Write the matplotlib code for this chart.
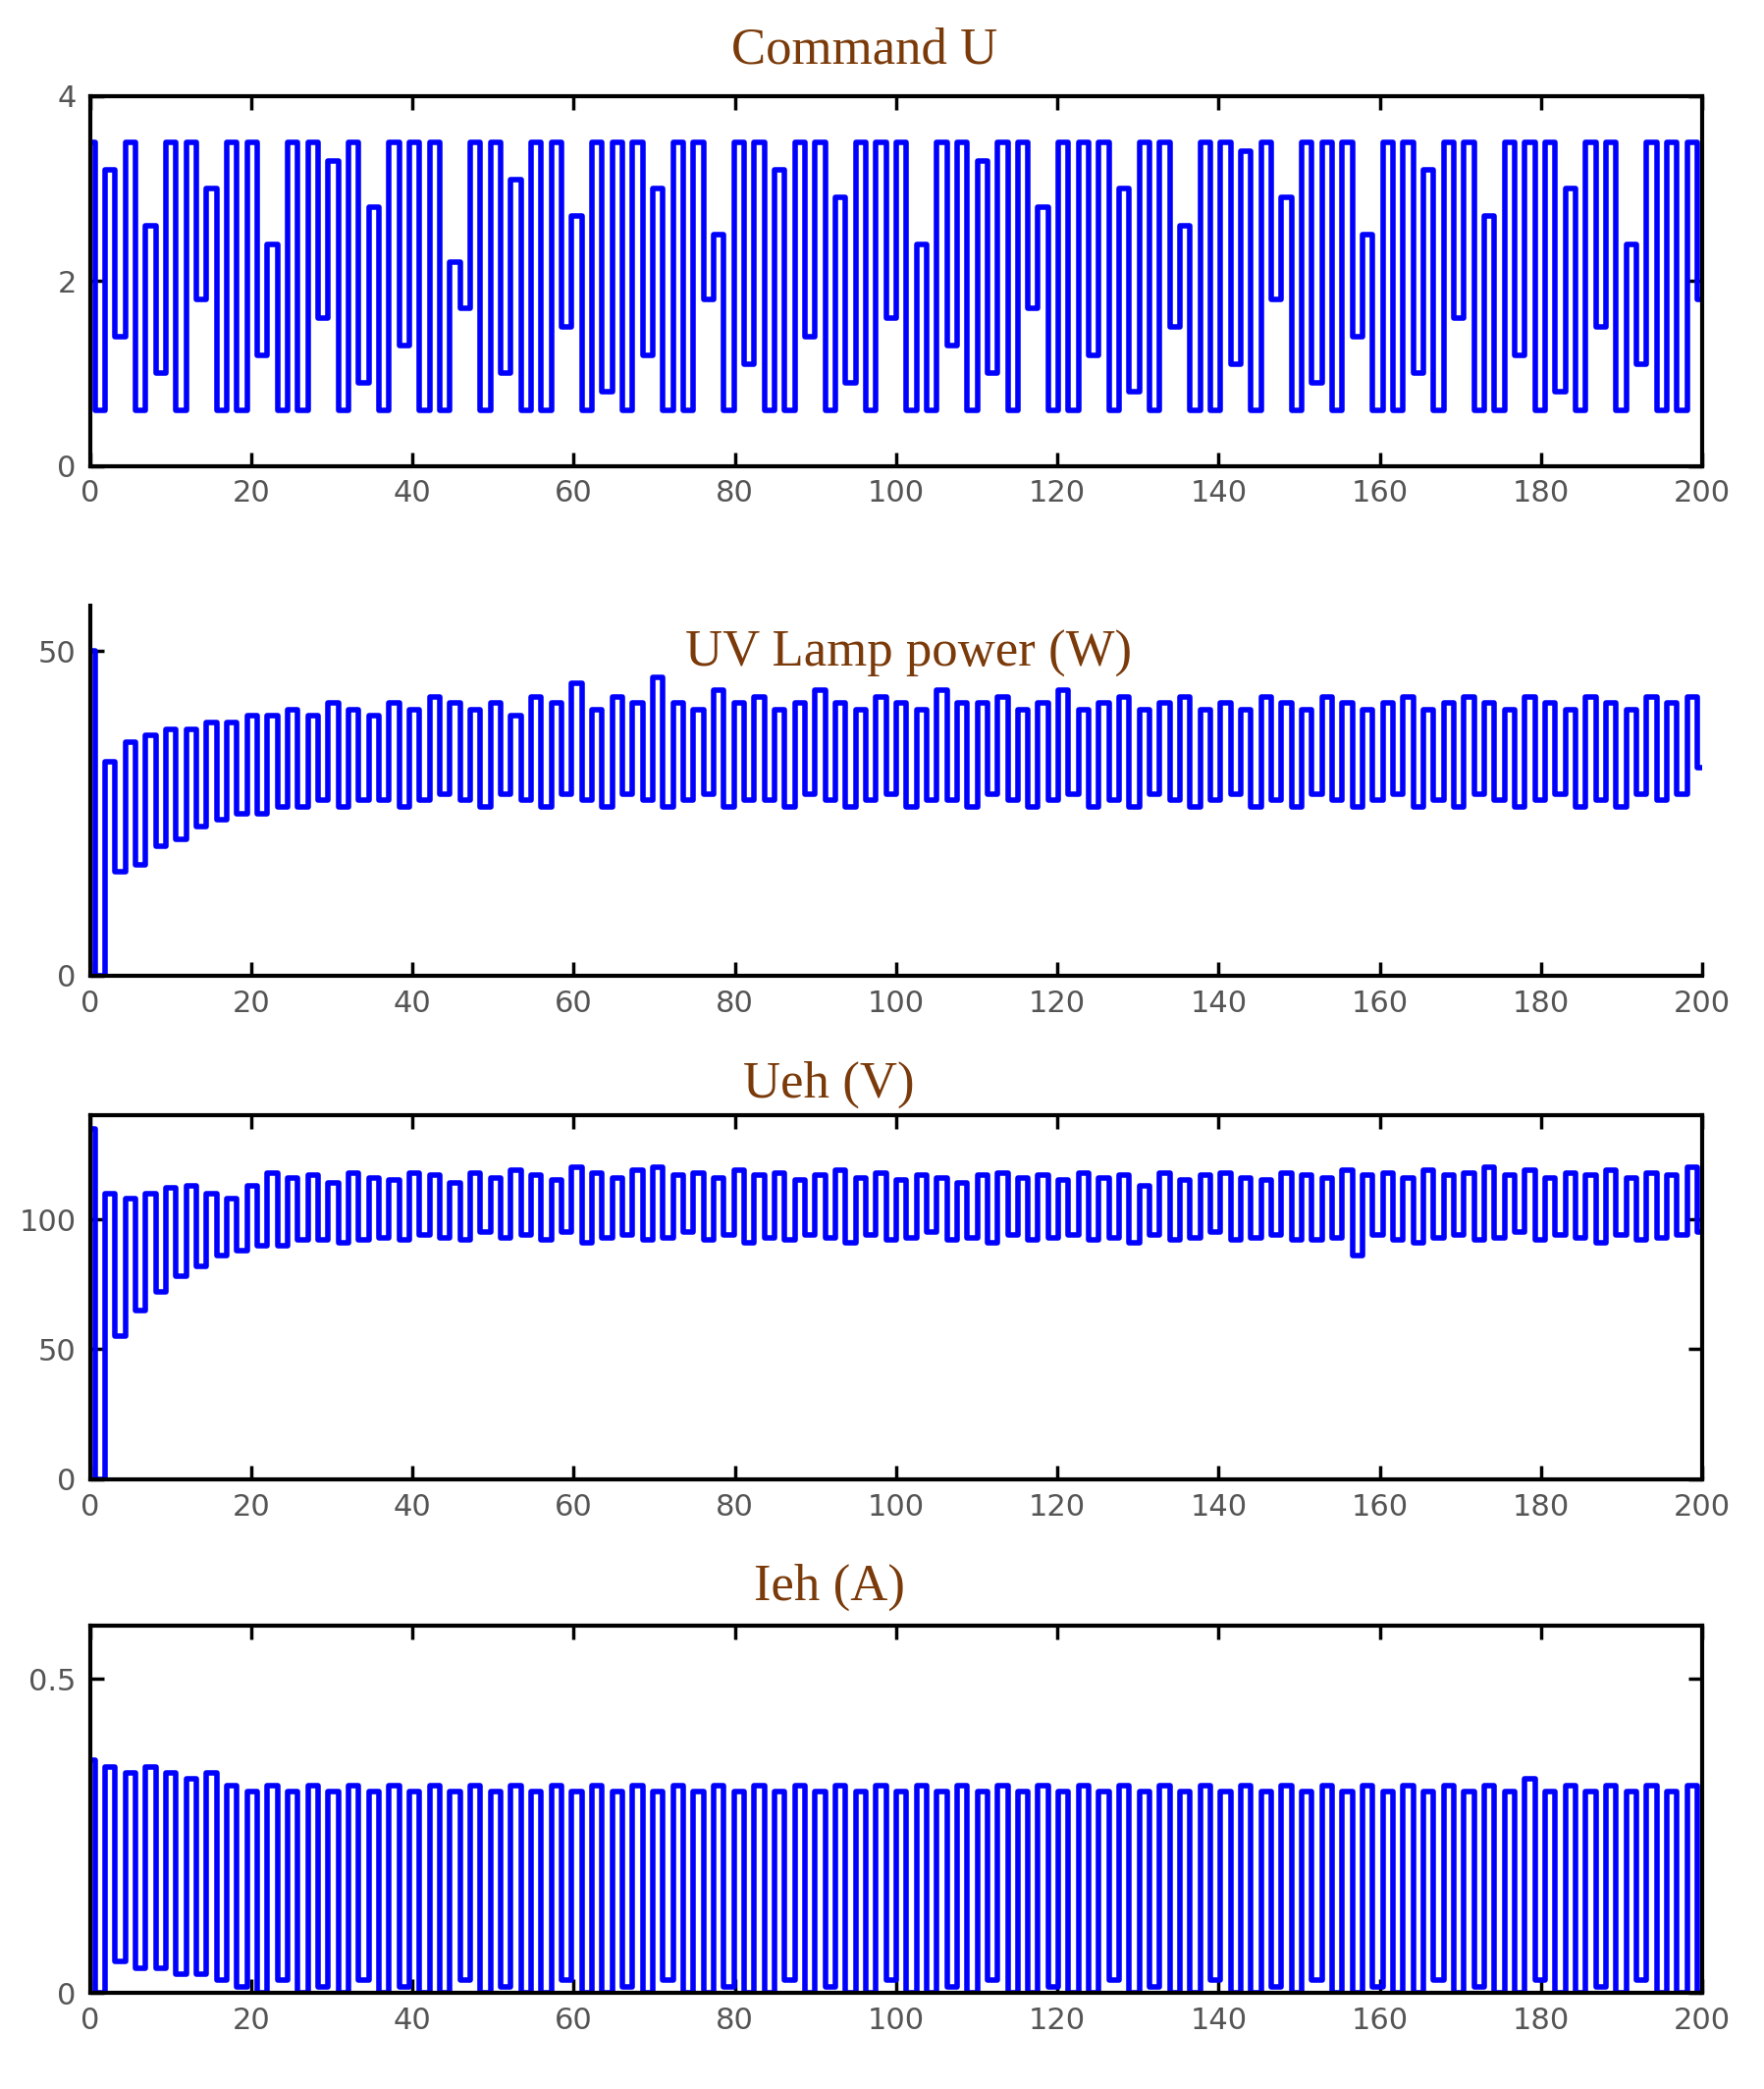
import numpy as np
import matplotlib
matplotlib.use("Agg")
import matplotlib.pyplot as plt

u_high = [3.5, 3.2, 3.5, 2.6, 3.5, 3.5, 3.0, 3.5, 3.5, 2.4, 3.5, 3.5, 3.3, 3.5, 2.8, 3.5,
          3.5, 3.5, 2.2, 3.5, 3.5, 3.1, 3.5, 3.5, 2.7, 3.5, 3.5, 3.5, 3.0, 3.5, 3.5, 2.5,
          3.5, 3.5, 3.2, 3.5, 3.5, 2.9, 3.5, 3.5, 3.5, 2.4, 3.5, 3.5, 3.3, 3.5, 3.5, 2.8,
          3.5, 3.5, 3.5, 3.0, 3.5, 3.5, 2.6, 3.5, 3.5, 3.4, 3.5, 2.9, 3.5, 3.5, 3.5, 2.5,
          3.5, 3.5, 3.2, 3.5, 3.5, 2.7, 3.5, 3.5, 3.5, 3.0, 3.5, 3.5, 2.4, 3.5, 3.5, 3.5]
u_low = [0.6, 1.4, 0.6, 1.0, 0.6, 1.8, 0.6, 0.6, 1.2, 0.6, 0.6, 1.6, 0.6, 0.9, 0.6, 1.3,
         0.6, 0.6, 1.7, 0.6, 1.0, 0.6, 0.6, 1.5, 0.6, 0.8, 0.6, 1.2, 0.6, 0.6, 1.8, 0.6,
         1.1, 0.6, 0.6, 1.4, 0.6, 0.9, 0.6, 1.6, 0.6, 0.6, 1.3, 0.6, 1.0, 0.6, 1.7, 0.6,
         0.6, 1.2, 0.6, 0.8, 0.6, 1.5, 0.6, 0.6, 1.1, 0.6, 1.8, 0.6, 0.9, 0.6, 1.4, 0.6,
         0.6, 1.0, 0.6, 1.6, 0.6, 0.6, 1.2, 0.6, 0.8, 0.6, 1.5, 0.6, 1.1, 0.6, 0.6, 1.8]

p_high = [50, 33, 36, 37, 38, 38, 39, 39, 40, 40, 41, 40, 42, 41, 40, 42, 41, 43, 42, 41,
          42, 40, 43, 42, 45, 41, 43, 42, 46, 42, 41, 44, 42, 43, 41, 42, 44, 42, 41, 43,
          42, 41, 44, 42, 42, 43, 41, 42, 44, 41, 42, 43, 41, 42, 43, 41, 42, 41, 43, 42,
          41, 43, 42, 41, 42, 43, 41, 42, 43, 42, 41, 43, 42, 41, 43, 42, 41, 43, 42, 43]
p_low = [0, 16, 17, 20, 21, 23, 24, 25, 25, 26, 26, 27, 26, 27, 27, 26, 27, 28, 27, 26,
         28, 27, 26, 28, 27, 26, 28, 27, 26, 27, 28, 26, 27, 27, 26, 28, 27, 26, 27, 28,
         26, 27, 27, 26, 28, 27, 26, 27, 28, 26, 27, 26, 28, 27, 26, 27, 28, 26, 27, 26,
         28, 27, 26, 27, 28, 26, 27, 26, 28, 27, 26, 27, 28, 26, 27, 26, 28, 27, 28, 32]

v_high = [135, 110, 108, 110, 112, 113, 110, 108, 113, 118, 116, 117, 114, 118, 116, 115,
          118, 117, 114, 118, 116, 119, 117, 115, 120, 118, 116, 119, 120, 117, 118, 116,
          119, 117, 118, 115, 117, 119, 116, 118, 115, 117, 116, 114, 117, 118, 116, 117,
          115, 118, 116, 117, 113, 118, 115, 117, 118, 116, 115, 118, 117, 116, 119, 117,
          118, 116, 119, 117, 118, 120, 117, 119, 116, 118, 117, 119, 116, 118, 117, 120]
v_low = [0, 55, 65, 72, 78, 82, 86, 88, 90, 90, 92, 92, 91, 92, 93, 92, 94, 93, 92, 95,
         93, 94, 92, 95, 91, 93, 94, 92, 93, 95, 92, 94, 91, 93, 92, 94, 93, 91, 94, 92,
         93, 95, 92, 93, 91, 94, 92, 93, 94, 92, 93, 91, 94, 92, 93, 95, 92, 93, 94, 92,
         92, 93, 86, 94, 92, 91, 93, 94, 92, 93, 95, 92, 94, 93, 91, 94, 92, 93, 94, 95]

i_high = [0.37, 0.36, 0.35, 0.36, 0.35, 0.34, 0.35, 0.33, 0.32, 0.33, 0.32, 0.33, 0.32, 0.33,
          0.32, 0.33, 0.32, 0.33, 0.32, 0.33, 0.32, 0.33, 0.32, 0.33, 0.32, 0.33, 0.32, 0.33,
          0.32, 0.33, 0.32, 0.33, 0.32, 0.33, 0.32, 0.33, 0.32, 0.33, 0.32, 0.33, 0.32, 0.33,
          0.32, 0.33, 0.32, 0.33, 0.32, 0.33, 0.32, 0.33, 0.32, 0.33, 0.32, 0.33, 0.32, 0.33,
          0.32, 0.33, 0.32, 0.33, 0.32, 0.33, 0.32, 0.33, 0.32, 0.33, 0.32, 0.33, 0.32, 0.33,
          0.32, 0.34, 0.32, 0.33, 0.32, 0.33, 0.32, 0.33, 0.32, 0.33]
i_low = [0.0, 0.05, 0.04, 0.04, 0.03, 0.03, 0.02, 0.01, 0.0, 0.02, 0.0, 0.01, 0.0, 0.02,
         0.0, 0.01, 0.0, 0.0, 0.02, 0.0, 0.01, 0.0, 0.0, 0.02, 0.0, 0.0, 0.01, 0.0, 0.02,
         0.0, 0.0, 0.01, 0.0, 0.0, 0.02, 0.0, 0.01, 0.0, 0.0, 0.02, 0.0, 0.0, 0.01, 0.0,
         0.02, 0.0, 0.0, 0.01, 0.0, 0.0, 0.02, 0.0, 0.01, 0.0, 0.0, 0.02, 0.0, 0.0, 0.01,
         0.0, 0.02, 0.0, 0.0, 0.01, 0.0, 0.0, 0.02, 0.0, 0.01, 0.0, 0.0, 0.02, 0.0, 0.0,
         0.01, 0.0, 0.02, 0.0, 0.0, 0.0]

titles = ["Command U", "UV Lamp power (W)", "Ueh (V)", "Ieh (A)"]
ylims = [(0, 4), (0, 57), (0, 140), (0, 0.585)]
yticks = [[0, 2, 4], [0, 50], [0, 50, 100], [0, 0.5]]
yticklabels = [["0", "2", "4"], ["0", "50"], ["0", "50", "100"], ["0", "0.5"]]
series = [(u_high, u_low), (p_high, p_low), (v_high, v_low), (i_high, i_low)]

# axes boxes [left, bottom, width, height] and title positions in figure fraction
boxes = [[0.051, 0.777, 0.914, 0.177], [0.051, 0.533, 0.914, 0.177],
         [0.051, 0.292, 0.914, 0.174], [0.051, 0.046, 0.914, 0.176]]
title_xy = [(0.49, 0.976), (0.515, 0.687), (0.47, 0.481), (0.47, 0.240)]

fig = plt.figure(figsize=(17.97, 21.28), dpi=100)
for k in range(4):
    hi, lo = series[k]
    n = len(hi)
    y = np.empty(2 * n)
    y[0::2] = hi
    y[1::2] = lo
    t = np.linspace(0, 200, 2 * n)
    ax = fig.add_axes(boxes[k])
    ax.plot(t, y, color="#0000ff", lw=4, drawstyle="steps-mid")
    ax.set_xlim(0, 200)
    ax.set_ylim(*ylims[k])
    ax.set_xticks(range(0, 201, 20))
    ax.set_yticks(yticks[k])
    ax.set_yticklabels(yticklabels[k])
    ax.tick_params(direction="in", length=10, width=2.5, labelsize=22,
                   labelcolor="#555555", top=(k != 1), right=(k != 1), pad=10)
    for s in ax.spines.values():
        s.set_linewidth(3)
    if k == 1:
        ax.spines["top"].set_visible(False)
        ax.spines["right"].set_visible(False)
    fig.text(*title_xy[k], titles[k], ha="center", va="center", fontsize=38,
             family="Liberation Serif", color="#7a3a0a")

fig.savefig("out.png", dpi=100)
